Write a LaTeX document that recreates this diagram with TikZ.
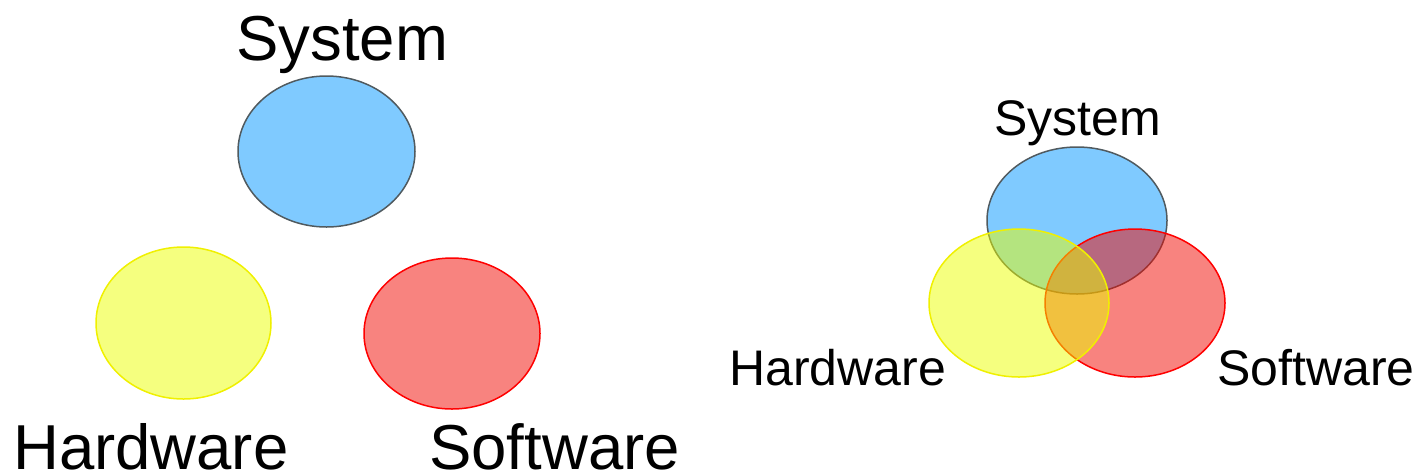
\documentclass[tikz,border=0pt]{standalone}
\usepackage{fontspec}
\setmainfont{Liberation Sans}
\usetikzlibrary{shapes.geometric}
\definecolor{bluefill}{RGB}{0,149,255}
\definecolor{bluestroke}{RGB}{80,90,95}
\definecolor{yellowfill}{RGB}{235,255,0}
\definecolor{yellowstroke}{RGB}{240,240,0}
\definecolor{redfill}{RGB}{241,8,0}
\definecolor{redstroke}{RGB}{255,0,0}
\tikzset{
  blob/.style={ellipse, inner sep=0pt, line width=1.5pt, fill opacity=0.5},
  sysblob/.style={blob, draw=bluestroke, fill=bluefill},
  hwblob/.style={blob, draw=yellowstroke, fill=yellowfill},
  swblob/.style={blob, draw=redstroke, fill=redfill},
  biglabel/.style={inner sep=0pt, anchor=base west, font=\fontsize{63.5}{70}\selectfont},
  smalllabel/.style={inner sep=0pt, anchor=base west, font=\fontsize{50}{56}\selectfont},
}
\begin{document}
\begin{tikzpicture}[x=1pt,y=-1pt]
\useasboundingbox (0,0) rectangle (1420,475);
% left: separate
\node[sysblob, minimum width=177pt, minimum height=151pt] (sysL) at (326.5,151.5) {};
\node[hwblob, minimum width=175pt, minimum height=152pt] (hwL) at (183.5,323) {};
\node[swblob, minimum width=176pt, minimum height=151pt] (swL) at (452,333.5) {};
\node[biglabel] (sysLt) at (236,60) {System};
\node[biglabel, text depth=0pt] (hwLt) at (13,469) {Hardware};
\node[biglabel, text depth=0pt] (swLt) at (429,469) {Software};
% right: overlapping
\node[sysblob, minimum width=180pt, minimum height=147pt] (sysR) at (1077,220.5) {};
\node[swblob, minimum width=180pt, minimum height=148pt] (swR) at (1135,303) {};
\node[hwblob, minimum width=180pt, minimum height=148pt] (hwR) at (1019,303) {};
\node[smalllabel] (sysRt) at (994,135) {System};
\node[smalllabel] (hwRt) at (729,385) {Hardware};
\node[smalllabel] (swRt) at (1217,385) {Software};
\end{tikzpicture}
\end{document}
